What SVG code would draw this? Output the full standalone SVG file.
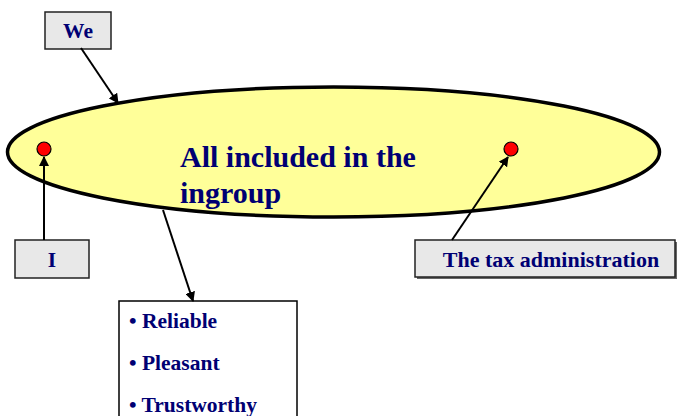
<svg xmlns="http://www.w3.org/2000/svg" width="677" height="416" viewBox="0 0 677 416">
<style>
.lbl{font-family:"Liberation Serif","Times New Roman",serif;font-weight:bold;fill:#000073}
.box{fill:#e8e8e8;stroke:#222;stroke-width:1.5}
.conn{stroke:#000;stroke-width:2;fill:none;marker-end:url(#ah)}
</style>
<defs>
<marker id="ah" viewBox="0 0 10 10" refX="9" refY="5" markerWidth="5" markerHeight="5" orient="auto" markerUnits="strokeWidth">
<path d="M0,0 L10,5 L0,10 z" fill="#000"/>
</marker>
</defs>
<rect width="677" height="416" fill="#fff"/>
<g id="ingroup">
<ellipse cx="333.5" cy="152" rx="326" ry="65" fill="#ffff99" stroke="#000" stroke-width="3.5"/>
<text class="lbl" x="180" y="167" font-size="30">All included in the</text>
<text class="lbl" x="180" y="203" font-size="30">ingroup</text>
<circle cx="44" cy="149" r="7" fill="#f00" stroke="#000" stroke-width="1.2"/>
<circle cx="511" cy="149" r="7" fill="#f00" stroke="#000" stroke-width="1.2"/>
</g>
<g id="we">
<rect class="box" x="45" y="12" width="66" height="37"/>
<text class="lbl" x="78" y="38" font-size="21.5" text-anchor="middle">We</text>
</g>
<g id="i">
<rect class="box" x="15" y="240" width="74" height="38"/>
<text class="lbl" x="52" y="267" font-size="21.5" text-anchor="middle">I</text>
</g>
<g id="tax">
<rect x="417" y="242" width="260" height="37" fill="#666"/>
<rect class="box" x="415" y="240" width="260" height="37"/>
<text class="lbl" x="551" y="267" font-size="22" text-anchor="middle">The tax administration</text>
</g>
<g id="traits">
<rect x="119" y="301" width="178" height="120" fill="#fff" stroke="#000" stroke-width="1.5"/>
<text class="lbl" x="129" y="328" font-size="21.5">• Reliable</text>
<text class="lbl" x="129" y="370" font-size="21.5">• Pleasant</text>
<text class="lbl" x="129" y="412" font-size="21.5">• Trustworthy</text>
</g>
<g id="connectors">
<line class="conn" x1="81" y1="48" x2="118" y2="103"/>
<line class="conn" x1="44" y1="240" x2="44" y2="157"/>
<line class="conn" x1="452" y1="240" x2="508" y2="157"/>
<line class="conn" x1="163" y1="210" x2="193" y2="301"/>
</g>
</svg>
